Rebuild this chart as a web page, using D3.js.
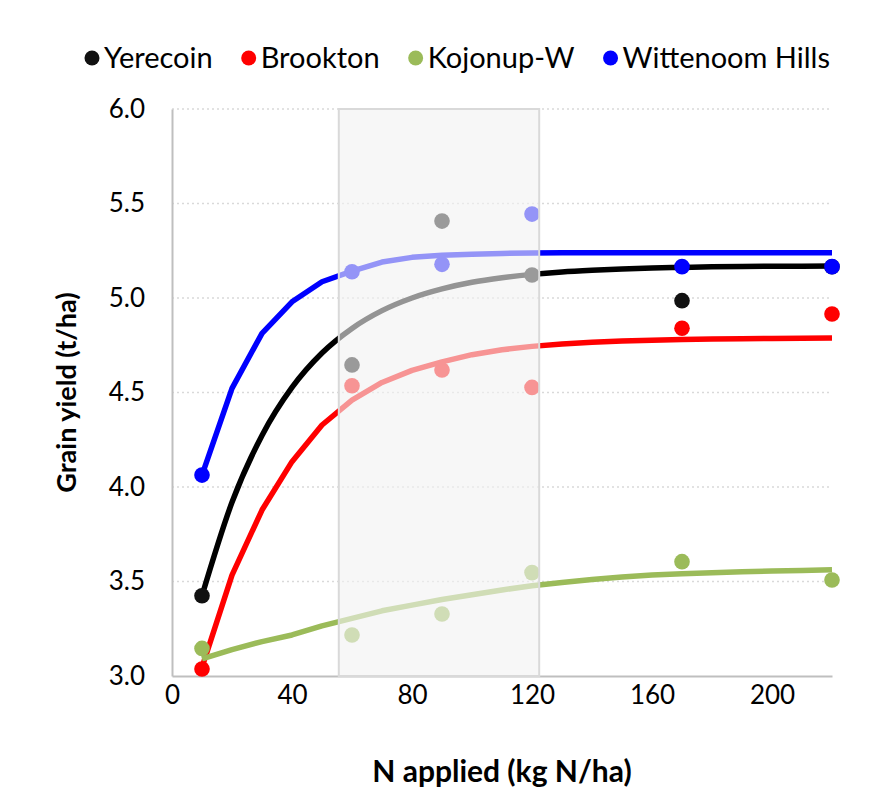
<!DOCTYPE html>
<html><head><meta charset="utf-8">
<script src="https://cdn.jsdelivr.net/npm/d3@7"></script>
<style>body{margin:0;background:#fff}svg{display:block}text{font-family:Lato,'Open Sans',sans-serif}</style>
</head><body><svg id="c" width="873" height="808"></svg>
<script>
// ---- data ----
const seriesNames = ["Yerecoin", "Brookton", "Kojonup-W", "Wittenoom Hills"];
const seriesColors = ["#000000", "#ff0000", "#9bbb59", "#0000ff"];
const obsN = [10, 60, 90, 120, 170, 220];
const obsYerecoin = [3.425, 4.646, 5.407, 5.122, 4.986, 5.165];
const obsBrookton = [3.037, 4.536, 4.619, 4.527, 4.840, 4.915];
const obsKojonup = [3.146, 3.217, 3.328, 3.547, 3.605, 3.508];
const obsWittenoom = [4.063, 5.139, 5.178, 5.444, 5.166, 5.166];
const fitN = [10,20,30,40,50,60,70,80,90,100,110,120,130,140,150,160,170,180,190,200,210,220];
const fitYerecoin = [3.425,3.919,4.273,4.527,4.709,4.839,4.933,5.000,5.048,5.083,5.107,5.125,5.138,5.147,5.154,5.159,5.162,5.165,5.167,5.168,5.168,5.169];
const fitBrookton = [3.046,3.534,3.878,4.134,4.328,4.460,4.553,4.617,4.662,4.700,4.726,4.744,4.757,4.766,4.773,4.777,4.780,4.783,4.785,4.786,4.787,4.788];
const fitKojonup = [3.090,3.140,3.182,3.217,3.265,3.305,3.345,3.375,3.405,3.430,3.455,3.478,3.495,3.510,3.524,3.535,3.541,3.546,3.551,3.555,3.558,3.562];
const fitWittenoom = [4.063,4.522,4.813,4.980,5.086,5.142,5.190,5.215,5.226,5.232,5.236,5.238,5.240,5.240,5.240,5.240,5.240,5.240,5.240,5.240,5.240,5.240];
const shadeRange = [55.6, 122.4];
const xTicks = [0, 40, 80, 120, 160, 200];
const yTicks = [3.0, 3.5, 4.0, 4.5, 5.0, 5.5, 6.0];
const xTitle = "N applied (kg N/ha)";
const yTitle = "Grain yield (t/ha)";

const obs = [obsYerecoin, obsBrookton, obsKojonup, obsWittenoom];
const fits = [fitYerecoin, fitBrookton, fitKojonup, fitWittenoom];

// ---- layout ----
const svg = d3.select("#c");
const x = d3.scaleLinear().domain([0, 220]).range([172, 832]);
const y = d3.scaleLinear().domain([3, 6]).range([676, 109]);

// gridlines
svg.append("g").selectAll("line").data(yTicks.filter(d => d > 3)).join("line")
  .attr("x1", x(0)).attr("x2", x(220)).attr("y1", d => y(d)).attr("y2", d => y(d))
  .attr("stroke", "#d9d9d9").attr("stroke-width", 1.3).attr("stroke-dasharray", "2,3");

// axes
const xAxis = svg.append("g").attr("transform", `translate(0,${y(3)})`)
  .call(d3.axisBottom(x).tickValues(xTicks).tickSize(0).tickPadding(10).tickFormat(d3.format("d")));
const yAxis = svg.append("g").attr("transform", `translate(${x(0)},0)`)
  .call(d3.axisLeft(y).tickValues(yTicks).tickSize(0).tickPadding(27).tickFormat(d3.format(".1f")));
[xAxis, yAxis].forEach(a => {
  a.select(".domain").attr("stroke", "#bfbfbf").attr("stroke-width", 2);
  a.selectAll("text").attr("font-size", 26).attr("fill", "#000").attr("font-family", "Lato,'Open Sans',sans-serif");
});

// fitted lines
fits.forEach((f, i) => {
  const line = d3.line().x((d, j) => x(fitN[j])).y(d => y(d))
    .curve(i === 0 ? d3.curveMonotoneX : d3.curveLinear);
  svg.append("path").datum(f).attr("d", line).attr("fill", "none")
    .attr("stroke", seriesColors[i]).attr("stroke-width", 5.5)
    .attr("stroke-linejoin", "round").attr("stroke-linecap", "butt");
});

// observed points
obs.forEach((o, i) => {
  svg.append("g").selectAll("circle").data(o).join("circle")
    .attr("cx", (d, j) => x(obsN[j])).attr("cy", d => y(d)).attr("r", 7.8)
    .attr("fill", i === 0 ? "#111111" : seriesColors[i]);
});

// shaded band overlay
svg.append("rect")
  .attr("x", x(shadeRange[0])).attr("width", x(shadeRange[1]) - x(shadeRange[0]))
  .attr("y", y(6)).attr("height", y(3) - y(6))
  .attr("fill", "#f2f2f2").attr("fill-opacity", 0.61)
  .attr("stroke", "#d9d9d9").attr("stroke-width", 2);

// axis titles
svg.append("text").attr("x", (x(0) + x(220)) / 2).attr("y", 782).attr("text-anchor", "middle")
  .attr("font-size", 30).attr("font-weight", "bold").text(xTitle);
svg.append("text").attr("transform", `translate(76,${(y(3) + y(6)) / 2}) rotate(-90)`)
  .attr("text-anchor", "middle").attr("font-size", 27).attr("font-weight", "bold").text(yTitle);

// legend
let lx = 92;
seriesNames.forEach((n, i) => {
  svg.append("circle").attr("cx", lx).attr("cy", 58).attr("r", 7.5)
    .attr("fill", i === 0 ? "#111111" : seriesColors[i]);
  const t = svg.append("text").attr("x", lx + 12).attr("y", 68).attr("font-size", 29).text(n);
  lx = lx + 12 + t.node().getComputedTextLength() + 36;
});
</script></body></html>
